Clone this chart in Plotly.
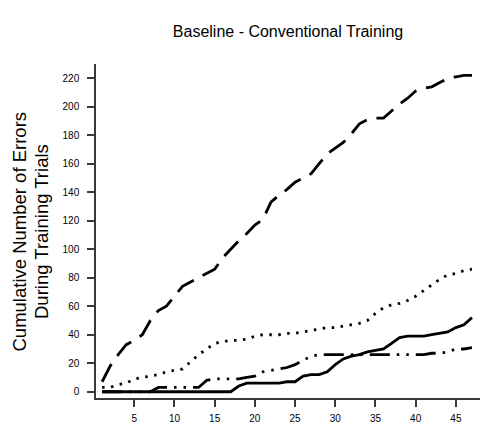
import plotly.graph_objects as go

trials = list(range(1, 48))

series_dashed = [7, 18, 26, 33, 36, 40, 50, 57, 60, 67, 74, 77, 80, 83, 86, 94, 100, 106, 111, 117,
                 121, 133, 138, 142, 147, 150, 153, 160, 167, 171, 175, 181, 188, 191, 192, 192, 197,
                 202, 206, 211, 213, 214, 217, 220, 221, 222, 222]
series_dotted = [3, 3, 5, 6, 9, 10, 11, 12, 14, 15, 16, 21, 26, 30, 34, 35, 36, 36, 37, 39,
                 40, 40, 40, 41, 41, 42, 43, 44, 45, 45, 46, 47, 48, 50, 55, 59, 61, 62, 64, 67,
                 71, 75, 79, 82, 83, 85, 86]
series_solid = [0, 0, 0, 0, 0, 0, 0, 0, 0, 0, 0, 0, 0, 0, 0, 0, 0, 4, 6, 6,
                6, 6, 6, 7, 7, 11, 12, 12, 14, 19, 23, 25, 26, 28, 29, 30, 34, 38, 39, 39,
                39, 40, 41, 42, 45, 47, 52]
series_dashdot = [0, 0, 0, 0, 0, 0, 0, 3, 3, 3, 3, 3, 3, 8, 9, 9, 9, 9, 10, 11,
                  14, 15, 16, 17, 19, 22, 25, 26, 26, 26, 26, 26, 26, 26, 26, 26, 26, 26, 26, 26,
                  26, 27, 27, 28, 30, 30, 31]

y_ticks = list(range(0, 221, 20))
x_ticks = [5, 10, 15, 20, 25, 30, 35, 40, 45]

FONT = "Liberation Sans, Arial, Helvetica, sans-serif"

fig = go.Figure()
styles = [
    (series_dashed, "20px,10px"),
    (series_dotted, "2.5px,6.5px"),
    (series_solid, "solid"),
    (series_dashdot, "20px,7px,2.5px,7px,2.5px,7px"),
]
for ys, dash in styles:
    fig.add_trace(go.Scatter(
        x=trials, y=ys, mode="lines",
        line=dict(color="black", width=2.8, dash=dash),
        showlegend=False, hoverinfo="skip",
    ))

axis_color = "#3a3a3a"
fig.update_layout(
    width=482, height=433,
    margin=dict(l=96, r=2, t=64, b=35),
    paper_bgcolor="white", plot_bgcolor="white",
    font=dict(family=FONT, color="black"),
    title=dict(text="Baseline - Conventional Training", x=288/482, xanchor="center",
               xref="paper" if False else "container",
               y=1 - 31/433, yanchor="middle", yref="container",
               font=dict(size=16, family=FONT, color="black")),
    xaxis=dict(range=[0.24, 48], tickvals=x_ticks, ticktext=[str(v) for v in x_ticks],
               showgrid=False, zeroline=False, showline=True, linecolor=axis_color, linewidth=1.5,
               ticks="outside", ticklen=7, tickwidth=1.5, tickcolor=axis_color,
               tickfont=dict(size=10, family=FONT, color="black"), ticklabelstandoff=3),
    yaxis=dict(range=[-4.4, 230], tickvals=y_ticks, ticktext=[str(v) for v in y_ticks],
               showgrid=False, zeroline=False, showline=True, linecolor=axis_color, linewidth=1.5,
               ticks="outside", ticklen=7, tickwidth=1.5, tickcolor=axis_color,
               tickfont=dict(size=10, family=FONT, color="black"), ticklabelstandoff=6),
)

fig.add_annotation(text="Cumulative Number of Errors", textangle=-90, showarrow=False,
                   xref="paper", yref="paper", x=0, y=0.5, xanchor="center", yanchor="middle",
                   xshift=18.5 - 96, yshift=-1, font=dict(size=18.5, family=FONT, color="black"))
fig.add_annotation(text="During Training Trials", textangle=-90, showarrow=False,
                   xref="paper", yref="paper", x=0, y=0.5, xanchor="center", yanchor="middle",
                   xshift=41 - 96, yshift=-1, font=dict(size=18.5, family=FONT, color="black"))

fig.write_html("out.html")
